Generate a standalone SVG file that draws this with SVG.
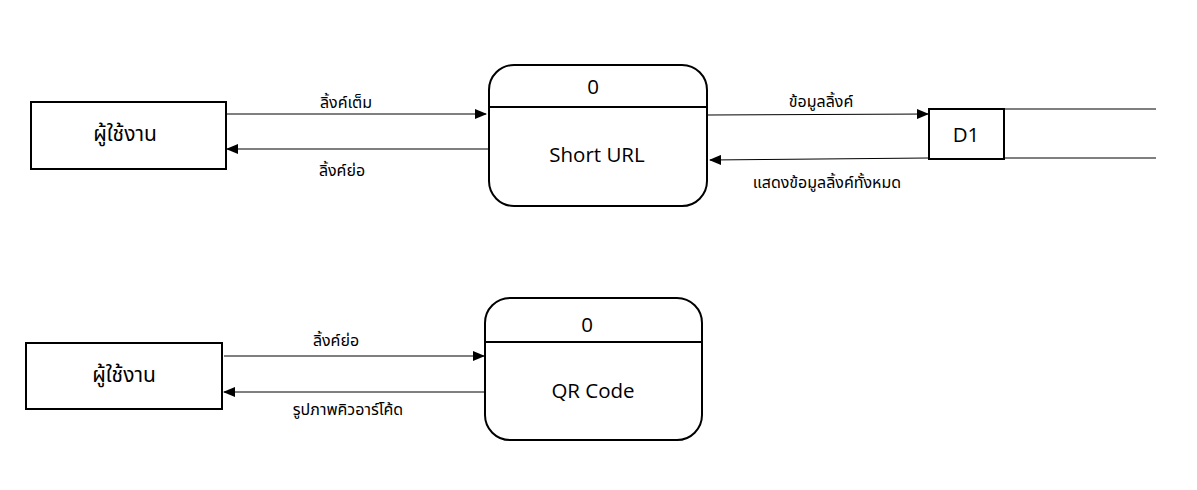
<svg xmlns="http://www.w3.org/2000/svg" width="1197" height="490" viewBox="0 0 1197 490">
<style>
.box{fill:#fff;stroke:#000;stroke-width:2}
.ln{fill:none;stroke:#000;stroke-width:1}
.en{font-family:"Open Sans","Noto Sans","Liberation Sans",sans-serif;font-size:20.5px;fill:#000;text-anchor:middle}
.th{font-family:"Noto Sans Thai","Liberation Sans","DejaVu Sans",sans-serif;font-size:16px;fill:#000;text-anchor:middle}
.thb{font-family:"Noto Sans Thai","Liberation Sans","DejaVu Sans",sans-serif;font-size:21px;fill:#000;text-anchor:middle}
</style>
<defs>
<marker id="ah" markerWidth="12" markerHeight="10" refX="11" refY="5" orient="auto" markerUnits="userSpaceOnUse">
<path d="M0,0 L12,5 L0,10 Z" fill="#000"/>
</marker>
</defs>
<rect width="1197" height="490" fill="#fff"/>
<g id="connectors">
<line class="ln" x1="227" y1="114" x2="486" y2="114" marker-end="url(#ah)"/>
<text class="th" x="346" y="108">ลิ้งค์เต็ม</text>
<line class="ln" x1="488" y1="149" x2="227" y2="149" marker-end="url(#ah)"/>
<text class="th" x="342" y="176">ลิ้งค์ย่อ</text>
<line class="ln" x1="708" y1="115" x2="928" y2="114" marker-end="url(#ah)"/>
<text class="th" x="821" y="107">ข้อมูลลิ้งค์</text>
<line class="ln" x1="928" y1="158" x2="710" y2="160" marker-end="url(#ah)"/>
<text class="th" x="827" y="188">แสดงข้อมูลลิ้งค์ทั้งหมด</text>
<line class="ln" x1="224" y1="356" x2="484" y2="356" marker-end="url(#ah)"/>
<text class="th" x="336" y="346">ลิ้งค์ย่อ</text>
<line class="ln" x1="484" y1="392" x2="224" y2="392" marker-end="url(#ah)"/>
<text class="th" x="348" y="415">รูปภาพคิวอาร์โค้ด</text>
</g>
<g id="user1">
<rect class="box" x="31" y="102" width="195" height="67"/>
<text class="thb" x="125" y="141">ผู้ใช้งาน</text>
</g>
<g id="process-short-url">
<rect class="box" x="489" y="65" width="218" height="141" rx="25" ry="25"/>
<line class="box" x1="489" y1="107" x2="707" y2="107"/>
<text class="en" x="593" y="94">0</text>
<text class="en" x="597" y="162">Short URL</text>
</g>
<g id="datastore-d1">
<rect class="box" x="929" y="109" width="75" height="50"/>
<line class="ln" x1="1004" y1="109" x2="1156" y2="109"/>
<line class="ln" x1="1004" y1="158" x2="1156" y2="158"/>
<text class="en" x="966" y="142">D1</text>
</g>
<g id="user2">
<rect class="box" x="26" y="343" width="196" height="66"/>
<text class="thb" x="124" y="382">ผู้ใช้งาน</text>
</g>
<g id="process-qr">
<rect class="box" x="485" y="298" width="217" height="142" rx="25" ry="25"/>
<line class="box" x1="485" y1="342" x2="702" y2="342"/>
<text class="en" x="587" y="332">0</text>
<text class="en" x="593" y="398">QR Code</text>
</g>
</svg>
